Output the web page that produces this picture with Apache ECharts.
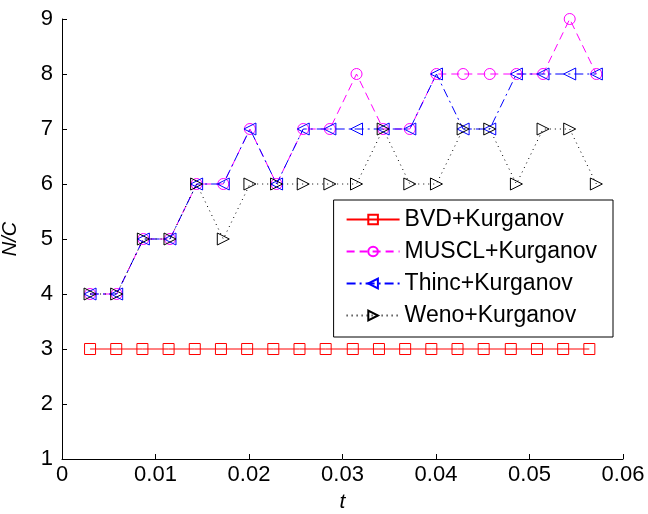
<!DOCTYPE html>
<html>
<head>
<meta charset="utf-8">
<script src="https://cdn.jsdelivr.net/npm/echarts@6/dist/echarts.min.js"></script>
<style>
  html, body { margin: 0; padding: 0; background: #fff; }
  #chart { width: 648px; height: 514px; }
</style>
</head>
<body>
<div id="chart"></div>
<script>
// Time samples (BVD run uses a slightly smaller output step)
const tBVD = [0.0030, 0.0058, 0.0086, 0.0114, 0.0142, 0.0170, 0.0198, 0.0226, 0.0254, 0.0282,
              0.0311, 0.0339, 0.0367, 0.0395, 0.0423, 0.0451, 0.0480, 0.0508, 0.0536, 0.0564];
const tOther = [0.0030, 0.00585, 0.0087, 0.01155, 0.0144, 0.01725, 0.0201, 0.02295, 0.0258, 0.02865,
                0.0315, 0.03435, 0.0372, 0.04005, 0.0429, 0.04575, 0.0486, 0.05145, 0.0543, 0.05715];

// N/C values per scheme
const ncBVD   = [3, 3, 3, 3, 3, 3, 3, 3, 3, 3, 3, 3, 3, 3, 3, 3, 3, 3, 3, 3];
const ncMUSCL = [4, 4, 5, 5, 6, 6, 7, 6, 7, 7, 8, 7, 7, 8, 8, 8, 8, 8, 9, 8];
const ncThinc = [4, 4, 5, 5, 6, 6, 7, 6, 7, 7, 7, 7, 7, 8, 7, 7, 8, 8, 8, 8];
const ncWeno  = [4, 4, 5, 5, 6, 5, 6, 6, 6, 6, 6, 7, 6, 6, 7, 7, 6, 7, 7, 6];

const xTicks = [0, 0.01, 0.02, 0.03, 0.04, 0.05, 0.06];
const yTicks = [1, 2, 3, 4, 5, 6, 7, 8, 9];

const names = ['BVD+Kurganov', 'MUSCL+Kurganov', 'Thinc+Kurganov', 'Weno+Kurganov'];

const pairs = (xs, ys) => xs.map((x, i) => [x, ys[i]]);

const font = 'Liberation Sans, Arial, sans-serif';

function mkSeries(name, xs, ys, color, dash, symbol, size, rotate) {
  return {
    name: name,
    type: 'line',
    data: pairs(xs, ys),
    symbol: symbol,
    symbolSize: size,
    symbolRotate: rotate,
    showAllSymbol: true,
    animation: false,
    lineStyle: { color: color, width: 1, type: dash },
    itemStyle: { color: 'rgba(255,255,255,0)', borderColor: color, borderWidth: 1 },
    emphasis: { disabled: true }
  };
}

const chart = echarts.init(document.getElementById('chart'), null, { renderer: 'canvas' });
chart.setOption({
  backgroundColor: '#fff',
  animation: false,
  grid: { left: 62, right: 25, top: 19, bottom: 55, containLabel: false, outerBoundsMode: 'none' },
  legend: {
    orient: 'vertical',
    right: 35,
    top: 200,
    padding: [8, 16, 10, 12],
    itemGap: 9,
    itemWidth: 53,
    itemHeight: 12,
    borderColor: '#000',
    borderWidth: 1,
    backgroundColor: '#fff',
    textStyle: { fontFamily: font, fontSize: 23, color: '#000' },
    data: names
  },
  xAxis: {
    type: 'value',
    min: 0, max: 0.06, interval: 0.01,
    name: 't',
    nameLocation: 'middle',
    nameGap: 33,
    nameTextStyle: { fontFamily: font, fontSize: 21, fontStyle: 'italic', color: '#000' },
    axisLine: { lineStyle: { color: '#000', width: 1 } },
    axisTick: { inside: true, length: 5, lineStyle: { color: '#000' } },
    axisLabel: {
      fontFamily: font, fontSize: 22, color: '#000', margin: 5,
      formatter: v => {
        const t = xTicks.find(k => Math.abs(k - v) < 1e-9);
        return t === undefined ? '' : String(t);
      }
    },
    splitLine: { show: false }
  },
  yAxis: {
    type: 'value',
    min: 1, max: 9, interval: 1,
    name: 'N/C',
    nameLocation: 'middle',
    nameGap: 42,
    nameTextStyle: { fontFamily: font, fontSize: 20, fontStyle: 'italic', color: '#000' },
    axisLine: { show: true, lineStyle: { color: '#000', width: 1 } },
    axisTick: { show: true, inside: true, length: 5, lineStyle: { color: '#000' } },
    axisLabel: {
      fontFamily: font, fontSize: 22, color: '#000', margin: 9,
      formatter: v => (yTicks.indexOf(v) >= 0 ? String(v) : '')
    },
    splitLine: { show: false }
  },
  series: [
    mkSeries(names[0], tBVD, ncBVD, '#ff0000', 'solid', 'rect', 11, 0),
    mkSeries(names[1], tOther, ncMUSCL, '#ff00ff', [8, 5], 'circle', 11, 0),
    mkSeries(names[2], tOther, ncThinc, '#0000ff', [9, 4, 2, 4], 'triangle', 12, 90),
    mkSeries(names[3], tOther, ncWeno, '#000000', [1, 4], 'triangle', 12, -90)
  ]
});
</script>
</body>
</html>
